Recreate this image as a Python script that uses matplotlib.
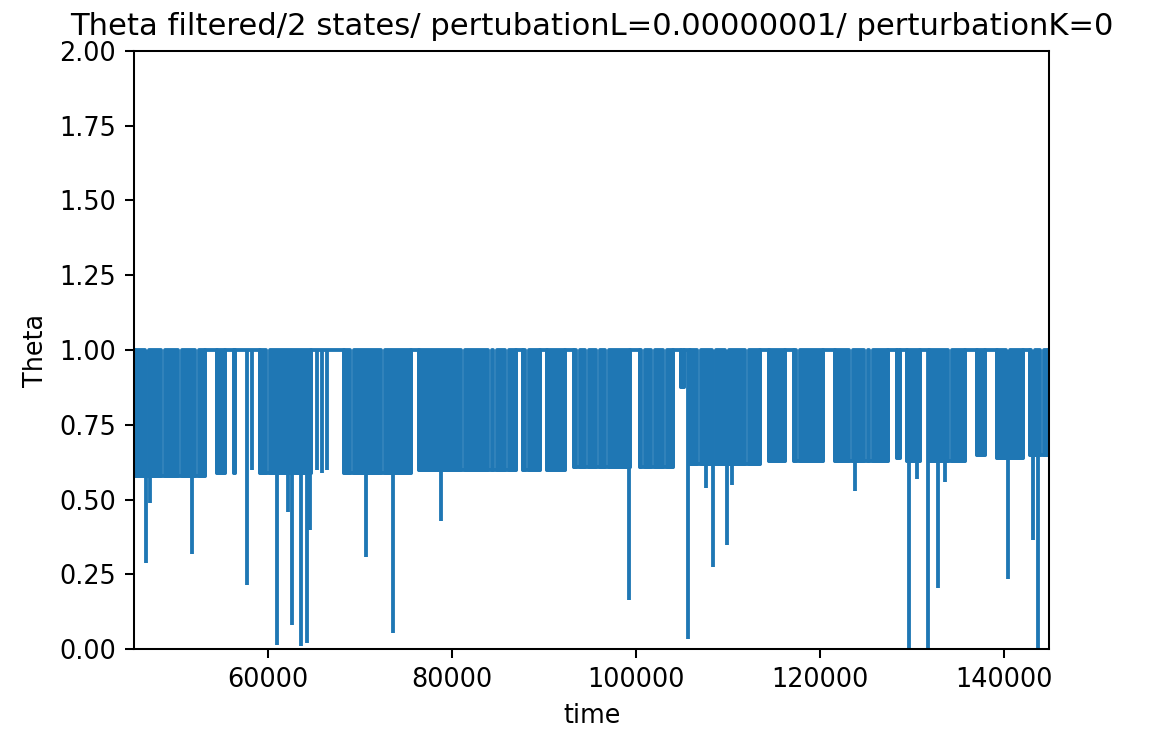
import matplotlib
matplotlib.use("Agg")
import matplotlib.pyplot as plt
import numpy as np

# ---- data ----
x_min, x_max = 45400, 144950

# dense switching blocks (signal toggling between 1.0 and a lower level)
block_start = [45400, 54425, 56273, 59100, 68233, 76388, 87696, 90305, 93241, 100417,
               104876, 105853, 114443, 117161, 121619, 128360, 129447, 131838, 137057,
               139232, 142820]
block_end = [53120, 55295, 56382, 64645, 75518, 86935, 89544, 92262, 99330, 104005,
             105202, 113464, 116183, 120314, 127382, 128686, 130860, 135753, 137927,
             142059, 145000]
block_low = [0.58, 0.59, 0.59, 0.59, 0.59, 0.60, 0.60, 0.60, 0.61, 0.61,
             0.875, 0.62, 0.63, 0.63, 0.63, 0.64, 0.63, 0.63, 0.65,
             0.64, 0.65]

# short stays at 1.0 inside dense blocks
slit_times = [46813, 48553, 50402, 52250, 59970, 69103, 72474, 81172, 84108, 84651,
              85956, 88131, 93677, 94655, 95851, 96830, 100743, 101830, 103135,
              106832, 108463, 109875, 112050, 117596, 123359, 124990, 125534,
              134120, 140428, 143146, 144125]

# isolated single drops
single_time = [58230, 65298, 65842, 66385]
single_min = [0.60, 0.60, 0.59, 0.60]

# deep drops
spike_time = [46705, 47140, 51706, 57686, 60948, 62144, 62579, 63558, 64210, 64536,
              70625, 73561, 78780, 99221, 105636, 107593, 108354, 109876, 110420,
              123794, 129664, 130534, 131729, 132817, 133578, 140428, 143146, 143690]
spike_min = [0.29, 0.49, 0.32, 0.215, 0.015, 0.46, 0.08, 0.01, 0.02, 0.40,
             0.31, 0.055, 0.43, 0.165, 0.035, 0.54, 0.275, 0.35, 0.55,
             0.53, 0.0, 0.57, 0.0, 0.205, 0.56, 0.235, 0.365, 0.0]

C = "#1f77b4"
LW = 1.5
SLIT_HALF = 200

fig = plt.figure(figsize=(1162 / 184, 733 / 184), dpi=184)
ax = fig.add_axes([134 / 1162, (733 - 649.3) / 733, (1049.3 - 134) / 1162, (649.3 - 50.7) / 733])

# line series built from the blocks
t_series = [x_min]
v_series = [1.0]
for s, e, lo in zip(block_start, block_end, block_low):
    t_series += [s, s, e, e]
    v_series += [1.0, lo, lo, 1.0]
t_series.append(x_max)
v_series.append(1.0)
ax.plot(t_series, v_series, color=C, lw=LW)

# dense blocks drawn as filled bands, split at slits
slits = np.array(slit_times)
for s, e, lo in zip(block_start, block_end, block_low):
    inside = slits[(slits > s) & (slits < e)]
    edges_s = [s] + [v + SLIT_HALF for v in inside]
    edges_e = [v - SLIT_HALF for v in inside] + [e]
    for a, b in zip(edges_s, edges_e):
        ax.fill_between([a, b], lo, 1.0, color=C, edgecolor=C, lw=LW)

ax.vlines(single_time, single_min, 1.0, color=C, lw=LW)
ax.vlines(spike_time, spike_min, 1.0, color=C, lw=LW)

ax.set_xlim(x_min, x_max)
ax.set_ylim(0, 2)
ax.set_yticks(np.arange(0, 2.01, 0.25))
ax.set_xlabel("time")
ax.set_ylabel("Theta")
ax.set_title("Theta filtered/2 states/ pertubationL=0.00000001/ perturbationK=0")

fig.savefig("out.png", dpi=184)
